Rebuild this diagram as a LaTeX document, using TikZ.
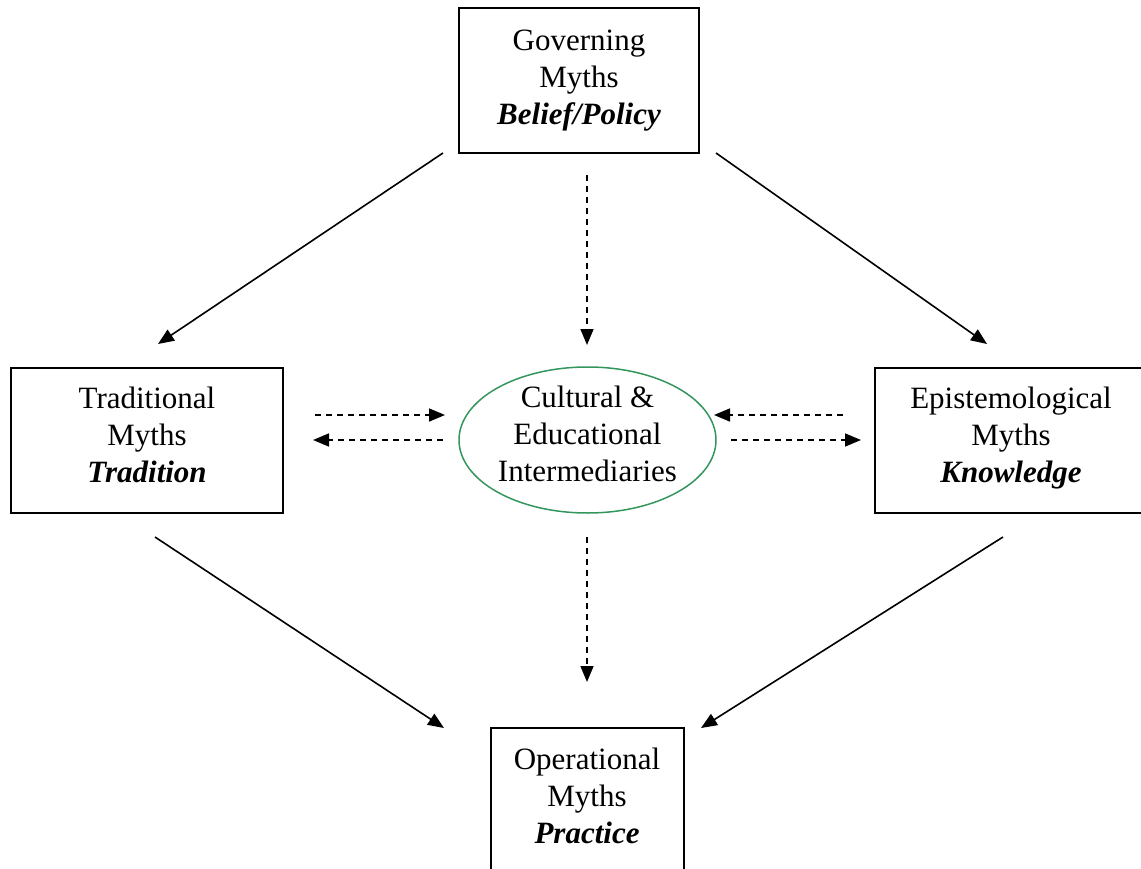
\documentclass[tikz,border=0pt]{standalone}
\usepackage{fontspec}
\setmainfont{Liberation Serif}
\usetikzlibrary{arrows.meta,shapes.geometric}
\definecolor{ellgreen}{RGB}{52,150,92}
\begin{document}
\begin{tikzpicture}[x=1pt,y=-1pt,
  every node/.style={font=\fontsize{31}{37}\selectfont, align=center, inner sep=0pt},
  mythbox/.style={draw, line width=1.5pt, minimum height=145pt},
  solidarrow/.style={line width=1.6pt, -{Triangle[length=16pt,width=13pt]}},
  dasharrow/.style={line width=1.6pt, dash pattern=on 6pt off 5pt, -{Triangle[length=16pt,width=13pt]}}]
\useasboundingbox (0,0) rectangle (1141,869);
\begin{scope}
\clip (0,0) rectangle (1141,869);
\node[mythbox, minimum width=240pt] (gov) at (579,80.5) {Governing\\Myths\\\textbf{\textit{Belief/Policy}}};
\node[mythbox, minimum width=272pt] (trad) at (147,440.5) {};
\node at (147,434.5) {Traditional\\Myths\\\textbf{\textit{Tradition}}};
\node[mythbox, minimum width=272pt] (epi) at (1011,440.5) {};
\node at (1011,438.5) {Epistemological\\Myths\\\textbf{\textit{Knowledge}}};
\node[draw=ellgreen, line width=1.5pt, ellipse, minimum width=257pt, minimum height=146pt] (ell) at (587.5,440) {};
\node at (587.5,434) {Cultural \&\\Educational\\Intermediaries};
\node[mythbox, minimum width=193pt, minimum height=170pt] (op) at (587.5,813) {};
\node at (587,796) {Operational\\Myths\\\textbf{\textit{Practice}}};
\end{scope}
% arrow end points
\coordinate (a1s) at (443,153); \coordinate (a1e) at (158,344);
\coordinate (a2s) at (716,153); \coordinate (a2e) at (987,344);
\coordinate (a3s) at (155,537); \coordinate (a3e) at (444,728);
\coordinate (a4s) at (1003,537); \coordinate (a4e) at (701,728);
\coordinate (d1s) at (587,175); \coordinate (d1e) at (587,345);
\coordinate (d2s) at (587,537); \coordinate (d2e) at (587,682);
\coordinate (h1s) at (315,415); \coordinate (h1e) at (445,415);
\coordinate (h2s) at (443,440); \coordinate (h2e) at (313,440);
\coordinate (h3s) at (843,415); \coordinate (h3e) at (714,415);
\coordinate (h4s) at (731,440); \coordinate (h4e) at (861,440);
\draw[solidarrow] (a1s) -- (a1e);
\draw[solidarrow] (a2s) -- (a2e);
\draw[solidarrow] (a3s) -- (a3e);
\draw[solidarrow] (a4s) -- (a4e);
\draw[dasharrow] (d1s) -- (d1e);
\draw[dasharrow] (d2s) -- (d2e);
\draw[dasharrow] (h1s) -- (h1e);
\draw[dasharrow] (h2s) -- (h2e);
\draw[dasharrow] (h3s) -- (h3e);
\draw[dasharrow] (h4s) -- (h4e);
\end{tikzpicture}
\end{document}
